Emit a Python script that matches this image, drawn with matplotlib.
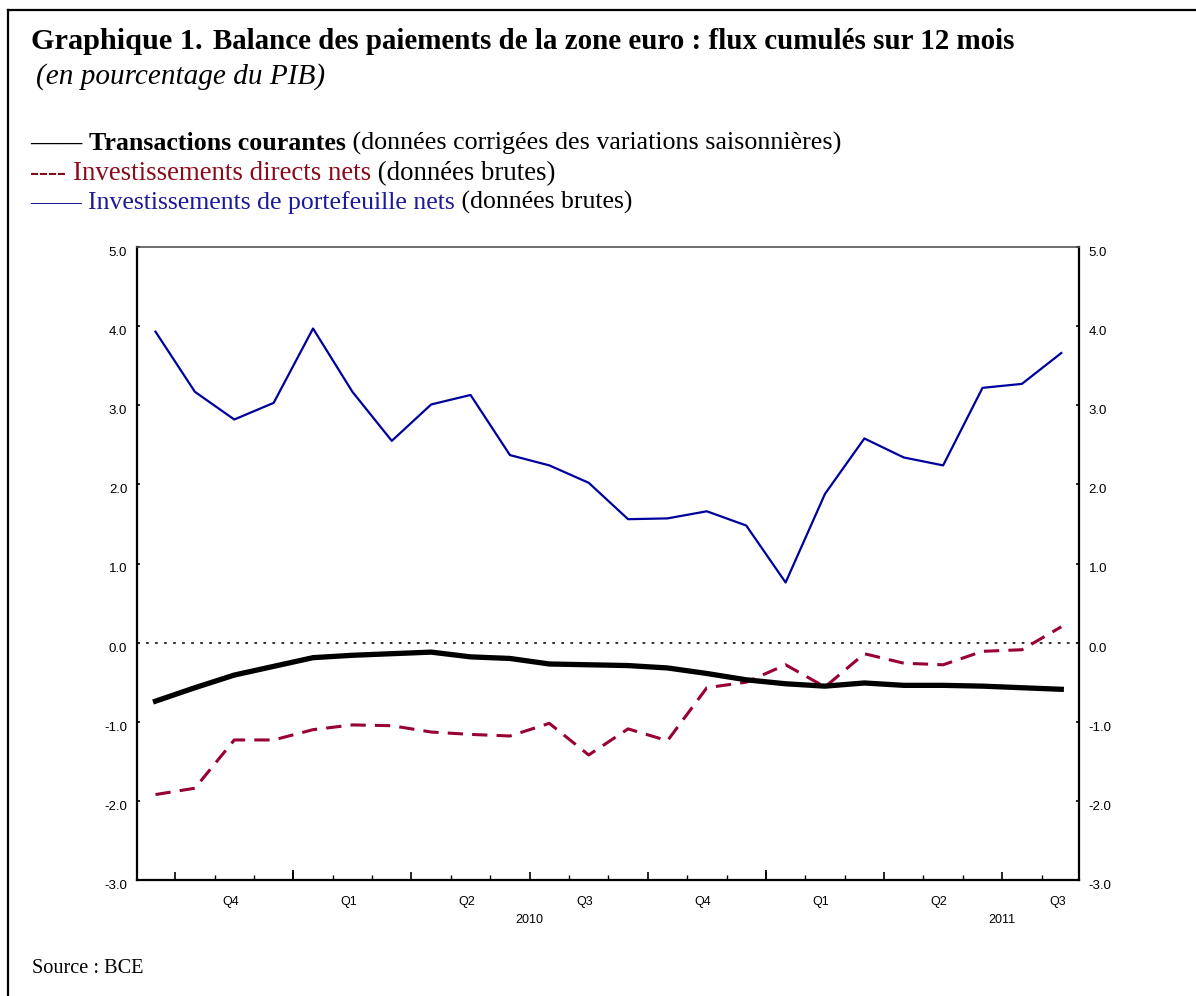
import matplotlib
matplotlib.use("Agg")
import matplotlib.pyplot as plt
import matplotlib.transforms as mtransforms
from matplotlib.lines import Line2D
import numpy as np

# --- DONNEES (mensuelles, sept. 2009 -> août 2011) ---
mois = list(range(24))
transactions_courantes = [-0.74, -0.57, -0.41, -0.30, -0.19, -0.16, -0.14, -0.12,
                          -0.18, -0.20, -0.27, -0.28, -0.29, -0.32, -0.39, -0.47,
                          -0.52, -0.55, -0.51, -0.54, -0.54, -0.55, -0.57, -0.59]
invest_directs = [-1.92, -1.84, -1.23, -1.23, -1.10, -1.04, -1.05, -1.13,
                  -1.16, -1.18, -1.02, -1.42, -1.09, -1.24, -0.57, -0.50,
                  -0.28, -0.56, -0.14, -0.26, -0.28, -0.11, -0.09, 0.20]
invest_portefeuille = [3.93, 3.17, 2.82, 3.03, 3.97, 3.17, 2.55, 3.01,
                       3.13, 2.37, 2.24, 2.02, 1.56, 1.57, 1.66, 1.48,
                       0.76, 1.88, 2.58, 2.34, 2.24, 3.22, 3.27, 3.66]
trimestres = ["Q4", "Q1", "Q2", "Q3", "Q4", "Q1", "Q2", "Q3"]
annees = ["2010", "2011"]
yticks = [-3.0, -2.0, -1.0, 0.0, 1.0, 2.0, 3.0, 4.0, 5.0]

W, H = 1196, 996
BLEU = "#00009C"
ROUGE = "#990033"
SERIF = ["Liberation Serif", "DejaVu Serif"]
SANS = ["Liberation Sans", "DejaVu Sans"]
NARROW = ["Liberation Sans Narrow", "Liberation Sans", "DejaVu Sans"]

fig = plt.figure(figsize=(W / 100, H / 100), dpi=100)
fig.patch.set_facecolor("white")

# cadre autour du graphique (haut + gauche)
fig.add_artist(Line2D([8 / W, 1.0], [1 - 10 / H, 1 - 10 / H], color="black", lw=1.6))
fig.add_artist(Line2D([8 / W, 8 / W], [0.0, 1 - 10 / H], color="black", lw=1.6))

# --- AXES ---
ax = fig.add_axes([137 / W, 1 - 880 / H, (1079 - 137) / W, (880 - 247) / H])
ax.plot(mois, invest_portefeuille, color=BLEU, lw=1.6, zorder=3)
ax.plot(mois, invest_directs, color=ROUGE, lw=2.2, dashes=(5, 3), zorder=3)
ax.plot(mois, transactions_courantes, color="black", lw=3.8, zorder=4)
ax.axhline(0, color="#222222", lw=1.3, dashes=(1.5, 3.5), zorder=2)

ax.set_xlim(-0.47, 23.45)
ax.set_ylim(-3, 5)

for side in ["left", "right", "bottom"]:
    ax.spines[side].set_linewidth(1.6)
ax.spines["top"].set_linewidth(1.2)
ax.spines["top"].set_color("#555555")

ax.set_yticks(yticks)
ax.set_yticklabels([f"{v:.1f}" for v in yticks])
ax.tick_params(axis="y", direction="in", length=2.5, width=1.2, pad=7,
               left=True, right=True, labelleft=True, labelright=True,
               labelsize=9.5)
for t in ax.yaxis.get_major_ticks():
    for lab in (t.label1, t.label2):
        lab.set_verticalalignment("top")
        lab.set_fontfamily(SANS)

# graduations : mois (court), trimestres (moyen), annees (long)
limites_mois = np.arange(0.5, 23.5, 1.0)
limites_trim = np.arange(0.5, 23.5, 3.0)
ax.set_xticks(limites_trim)
ax.set_xticklabels([])
ax.set_xticks([m for m in limites_mois if m not in limites_trim], minor=True)
ax.tick_params(axis="x", which="major", direction="in", length=6, width=1.2)
ax.tick_params(axis="x", which="minor", direction="in", length=3.5, width=1.0)

sec = ax.secondary_xaxis("bottom")
sec.set_xticks([3.5, 15.5])
sec.set_xticklabels([])
sec.tick_params(direction="in", length=7.5, width=1.3)
sec.spines["bottom"].set_visible(False)

trans = mtransforms.blended_transform_factory(ax.transData, ax.transAxes)
for i, q in enumerate(trimestres):
    ax.text(1.9 + 3 * i, -0.035, q, transform=trans, ha="center", va="center",
            fontsize=9, family=NARROW)
for x, a in zip([9.5, 21.5], annees):
    ax.text(x, -0.063, a, transform=trans, ha="center", va="center",
            fontsize=9, family=NARROW)


# --- TEXTES (titre, legende, source) ---
renderer = fig.canvas.get_renderer()


def ligne_texte(x_px, y_px, morceaux, largeur=None):
    textes = [fig.text(0, 0, s, ha="left", va="baseline", family=SERIF, **kw)
              for s, kw in morceaux]
    if largeur:
        tot = sum(t.get_window_extent(renderer).width for t in textes)
        k = largeur / tot
        for t in textes:
            t.set_fontsize(t.get_fontsize() * k)
    x = x_px
    for t in textes:
        t.set_position((x / W, 1 - y_px / H))
        x += t.get_window_extent(renderer).width
    return textes


ligne_texte(31, 49, [("Graphique 1.", dict(fontsize=20, weight="bold"))], largeur=172)
ligne_texte(213, 49, [("Balance des paiements de la zone euro : flux cumulés sur 12 mois",
                       dict(fontsize=16, weight="bold"))], largeur=805)
ligne_texte(36, 84, [("(en pourcentage du PIB)", dict(fontsize=15, style="italic"))], largeur=290)

ligne_texte(30, 150, [("—— ", dict(fontsize=15, color="black", weight="bold")),
                      ("Transactions courantes", dict(fontsize=15, weight="bold")),
                      (" (données corrigées des variations saisonnières)", dict(fontsize=15))],
            largeur=815)
ligne_texte(30, 180, [("---- ", dict(fontsize=15, color="#8B0A1A")),
                      ("Investissements directs nets", dict(fontsize=15, color="#8B0A1A")),
                      (" (données brutes)", dict(fontsize=15))],
            largeur=529)
ligne_texte(30, 209, [("—— ", dict(fontsize=15, color="#1A1A9A")),
                      ("Investissements de portefeuille nets", dict(fontsize=15, color="#1A1A9A")),
                      (" (données brutes)", dict(fontsize=15))],
            largeur=607)

ligne_texte(32, 973, [("Source : BCE", dict(fontsize=15))], largeur=112)

fig.savefig("out.png", dpi=100, facecolor="white")
